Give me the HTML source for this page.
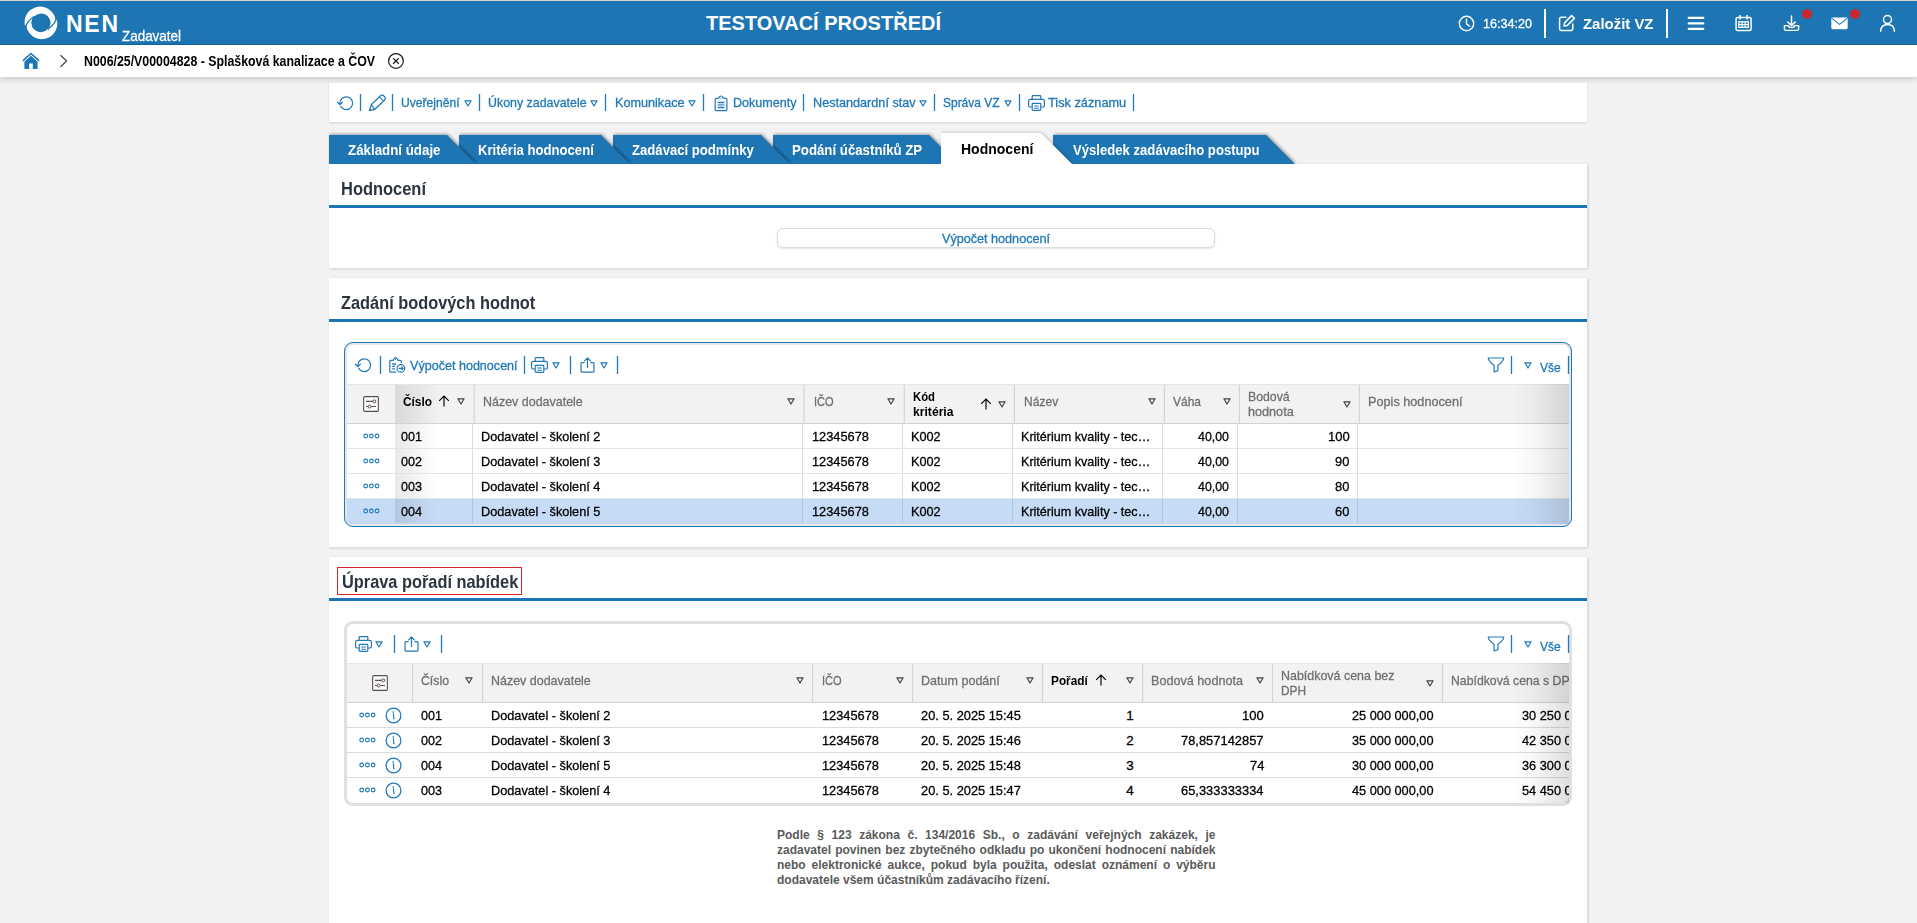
<!DOCTYPE html>
<html lang="cs"><head><meta charset="utf-8"><title>NEN - Hodnocení</title>
<style>
html,body{margin:0;padding:0}
body{width:1917px;height:923px;overflow:hidden;position:relative;background:#f2f2f2;font-family:"Liberation Sans", sans-serif;}
.t{position:absolute;white-space:pre;line-height:1;transform-origin:0 0;}
div,svg{box-sizing:border-box}
</style></head><body>
<div style="position:absolute;left:0px;top:0px;width:1917px;height:1px;background:#d9d6d2"></div>
<div style="position:absolute;left:0px;top:1px;width:1917px;height:44px;background:#1d75b4;border-bottom:1px solid #1468a8"></div>
<div style="position:absolute;left:0px;top:45px;width:1917px;height:32px;background:#fff;box-shadow:0 2px 6px rgba(0,0,0,.18)"></div>
<svg style="position:absolute;left:24px;top:6px;" width="34" height="34" viewBox="0 0 34 34" fill="none"><path d="M1.45 21.2A15.55 15.55 0 1 1 31.33 12.76Q31.32 17.8 23.98 23.33A9.4 9.4 0 1 0 10.14 10.61Q2.6 15.9 1.45 21.2Z" fill="#fff"/>
<path d="M32.47 12.5A15.55 15.55 0 1 1 2.59 20.94Q2.6 15.9 9.94 10.37A9.4 9.4 0 1 0 23.78 23.09Q31.32 17.8 32.47 12.5Z" fill="#fff"/>
<path d="M10.3 10.3Q2.6 15.9 1.2 21.9M23.7 23.4Q31.32 17.8 32.7 11.8" stroke="#1d75b4" stroke-width="1.25" fill="none"/></svg>
<span class="t" style="left:66.00px;top:13px;font-size:23px;color:#fff;font-weight:700;letter-spacing:1.719px;">NEN</span>
<span class="t" style="left:122.00px;top:28px;font-size:15px;color:#fff;-webkit-text-stroke:.3px;transform:scaleX(0.8956);">Zadavatel</span>
<span class="t" style="left:706.00px;top:13px;font-size:20px;color:#fff;font-weight:700;letter-spacing:0.009px;">TESTOVACÍ PROSTŘEDÍ</span>
<svg style="position:absolute;left:1458px;top:15px;" width="17" height="17" viewBox="0 0 17 17" fill="none"><circle cx="8.5" cy="8.5" r="7.2" stroke="#fff" stroke-width="1.4"/><path d="M8.5 4.3V8.8L11.6 11.2" stroke="#fff" stroke-width="1.4" stroke-linecap="round" fill="none"/></svg>
<span class="t" style="left:1483.00px;top:17px;font-size:13.4px;color:#fff;-webkit-text-stroke:.3px;transform:scaleX(0.9400);">16:34:20</span>
<div style="position:absolute;left:1544px;top:9px;width:2px;height:29px;background:#fff"></div>
<svg style="position:absolute;left:1558px;top:14px;" width="18" height="18" viewBox="0 0 18 18" fill="none"><path d="M8 3.2H3.2a1.6 1.6 0 0 0-1.6 1.6V14.8a1.6 1.6 0 0 0 1.6 1.6H13.2a1.6 1.6 0 0 0 1.6-1.6V10" stroke="#fff" stroke-width="1.5" stroke-linecap="round" fill="none"/><path d="M13.6 1.6l2.8 2.8-7 7-3.4.7.7-3.5z" stroke="#fff" stroke-width="1.5" stroke-linejoin="round" fill="none"/></svg>
<span class="t" style="left:1583.00px;top:16px;font-size:15.5px;color:#fff;font-weight:700;transform:scaleX(0.9631);">Založit VZ</span>
<div style="position:absolute;left:1666px;top:9px;width:2px;height:29px;background:#fff"></div>
<svg style="position:absolute;left:1687px;top:15px;" width="18" height="17" viewBox="0 0 18 17" fill="none"><path d="M1.8 2.9H16.2M1.8 8.4H16.2M1.8 13.9H16.2" stroke="#fff" stroke-width="2.3" stroke-linecap="round"/></svg>
<svg style="position:absolute;left:1735px;top:15px;" width="18" height="17" viewBox="0 0 18 17" fill="none"><rect x="1.1" y="2.4" width="15" height="13.2" rx="1.4" stroke="#fff" stroke-width="1.5"/><path d="M5 .5V4M12.2 .5V4" stroke="#fff" stroke-width="1.5" stroke-linecap="round"/><path d="M3.4 6.9H13.8M3.4 9.6H13.8M3.4 12.4H13.8" stroke="#fff" stroke-width="1.4"/><path d="M3.9 6.3V13M7.1 6.3V13M10.2 6.3V13M13.3 6.3V13" stroke="#fff" stroke-width="1.2"/></svg>
<svg style="position:absolute;left:1783px;top:15px;" width="17" height="17" viewBox="0 0 17 17" fill="none"><path d="M8.5 1V10.4M4.8 7L8.5 10.6 12.2 7" stroke="#fff" stroke-width="1.5" stroke-linecap="round" stroke-linejoin="round" fill="none"/><path d="M1.4 10.6V14a1.4 1.4 0 0 0 1.4 1.4H14.2a1.4 1.4 0 0 0 1.4-1.4V10.6H11.6l-1 1.8H6.4l-1-1.8z" stroke="#fff" stroke-width="1.4" stroke-linejoin="round" fill="none"/></svg>
<div style="position:absolute;left:1801.8px;top:9px;width:10px;height:10px;background:#c9282d;border-radius:50%"></div>
<svg style="position:absolute;left:1831px;top:17px;" width="17" height="13" viewBox="0 0 17 13" fill="none"><rect x="0.3" y="0.6" width="16.4" height="11.6" rx="1.4" fill="#fff"/><path d="M0.8 1.4L8.5 7.4 16.2 1.4" stroke="#1d75b4" stroke-width="1.1" fill="none"/></svg>
<div style="position:absolute;left:1849.8px;top:9px;width:10px;height:10px;background:#c9282d;border-radius:50%"></div>
<svg style="position:absolute;left:1879px;top:14px;" width="17" height="18" viewBox="0 0 17 18" fill="none"><circle cx="8.5" cy="5.6" r="4" stroke="#fff" stroke-width="1.5"/><path d="M1.6 17.2C1.6 12.8 4.6 10.4 8.5 10.4S15.4 12.8 15.4 17.2" stroke="#fff" stroke-width="1.5" stroke-linecap="round" fill="none"/></svg>
<svg style="position:absolute;left:22px;top:52px;" width="18" height="18" viewBox="0 0 18 18" fill="none"><path d="M1.4 8.4L9 1.5 16.6 8.4" stroke="#1d75b4" stroke-width="1.6" stroke-linecap="round" stroke-linejoin="round" fill="none"/><path d="M2.4 9.7L9 3.8l6.6 5.9V16.9H10.8V11.6H7.2V16.9H2.4z" fill="#1d75b4"/></svg>
<svg style="position:absolute;left:59px;top:54px;" width="9" height="14" viewBox="0 0 9 14" fill="none"><path d="M1.6 1.2L7.6 7 1.6 12.8" stroke="#444" stroke-width="1.2" fill="none"/></svg>
<span class="t" style="left:84.00px;top:54px;font-size:14px;color:#000;font-weight:700;transform:scaleX(0.8818);">N006/25/V00004828 - Splašková kanalizace a ČOV</span>
<svg style="position:absolute;left:388px;top:53px;" width="16" height="16" viewBox="0 0 16 16" fill="none"><circle cx="7.95" cy="7.95" r="7.35" stroke="#1a1a1a" stroke-width="1.2"/><path d="M5.1 5.1L10.8 10.8M10.8 5.1L5.1 10.8" stroke="#1a1a1a" stroke-width="1.3"/></svg>
<div style="position:absolute;left:329px;top:83px;width:1258px;height:39px;background:#fff;box-shadow:0 1px 2px rgba(0,0,0,.12)"></div>
<svg style="position:absolute;left:337px;top:96px;" width="17" height="15" viewBox="0 0 17 15" fill="none"><path d="M2.94 8.2A6.35 6.35 0 1 1 3.65 10.25" stroke="#2079b8" stroke-width="1.2" stroke-linecap="round" fill="none"/><path d="M0.4 6.2L2.85 8.5 5.3 6.2" stroke="#2079b8" stroke-width="1.2" stroke-linecap="round" stroke-linejoin="round" fill="none"/></svg>
<svg style="position:absolute;left:359px;top:94px;" width="4" height="17" viewBox="0 0 4 17" fill="none"><path d="M1.50 0V17" stroke="#2079b8" stroke-width="1.3"/></svg>
<svg style="position:absolute;left:368px;top:94px;" width="19" height="18" viewBox="0 0 19 18" fill="none"><path d="M3.3 10.8L11.9 2.3A3.04 3.04 0 0 1 16.3 6.5L6.8 15.3 1.3 16.7z" stroke="#2079b8" stroke-width="1.2" stroke-linejoin="round" fill="none"/><path d="M3.3 10.8L6.8 15.3M11.3 2.9L15.6 7.2" stroke="#2079b8" stroke-width="1.2"/><path d="M1.3 16.7L1.9 14.4 3.6 16.1z" fill="#2079b8"/></svg>
<svg style="position:absolute;left:391px;top:94px;" width="4" height="17" viewBox="0 0 4 17" fill="none"><path d="M1.50 0V17" stroke="#2079b8" stroke-width="1.3"/></svg>
<span class="t" style="left:401.20px;top:96px;font-size:13.4px;color:#2079b8;-webkit-text-stroke:.3px;transform:scaleX(0.9033);">Uveřejnění</span>
<svg style="position:absolute;left:464px;top:99.5px;" width="8" height="7" viewBox="0 0 8 7" fill="none"><path d="M0.9 0.8H7.1L4 6z" stroke="#2079b8" stroke-width="1.2" stroke-linejoin="round" fill="none"/></svg>
<svg style="position:absolute;left:478px;top:94px;" width="4" height="17" viewBox="0 0 4 17" fill="none"><path d="M1.50 0V17" stroke="#2079b8" stroke-width="1.3"/></svg>
<span class="t" style="left:487.60px;top:96px;font-size:13.4px;color:#2079b8;-webkit-text-stroke:.3px;transform:scaleX(0.9262);">Úkony zadavatele</span>
<svg style="position:absolute;left:590px;top:99.5px;" width="8" height="7" viewBox="0 0 8 7" fill="none"><path d="M0.9 0.8H7.1L4 6z" stroke="#2079b8" stroke-width="1.2" stroke-linejoin="round" fill="none"/></svg>
<svg style="position:absolute;left:604px;top:94px;" width="4" height="17" viewBox="0 0 4 17" fill="none"><path d="M1.50 0V17" stroke="#2079b8" stroke-width="1.3"/></svg>
<span class="t" style="left:614.70px;top:96px;font-size:13.4px;color:#2079b8;-webkit-text-stroke:.3px;transform:scaleX(0.9443);">Komunikace</span>
<svg style="position:absolute;left:688px;top:99.5px;" width="8" height="7" viewBox="0 0 8 7" fill="none"><path d="M0.9 0.8H7.1L4 6z" stroke="#2079b8" stroke-width="1.2" stroke-linejoin="round" fill="none"/></svg>
<svg style="position:absolute;left:702px;top:94px;" width="4" height="17" viewBox="0 0 4 17" fill="none"><path d="M1.50 0V17" stroke="#2079b8" stroke-width="1.3"/></svg>
<svg style="position:absolute;left:713.5px;top:94.5px;" width="14" height="17" viewBox="0 0 14 17" fill="none"><path d="M1.16 4.6A1.2 1.2 0 0 1 2.36 3.4H4.2C5 3.4 5 1 7.03 1S9.06 3.4 9.86 3.4H11.7A1.2 1.2 0 0 1 12.9 4.6V14.5A1.2 1.2 0 0 1 11.7 15.7H2.36A1.2 1.2 0 0 1 1.16 14.5z" stroke="#2079b8" stroke-width="1.2" fill="none"/><circle cx="6.95" cy="3.1" r=".65" fill="#2079b8"/><path d="M3.7 7.4H10.4M3.7 12.5H10.4" stroke="#2079b8" stroke-width="1.5"/><path d="M3.7 9.95H10.4" stroke="#2079b8" stroke-width="1.1"/></svg>
<span class="t" style="left:732.60px;top:96px;font-size:13.4px;color:#2079b8;-webkit-text-stroke:.3px;transform:scaleX(0.9375);">Dokumenty</span>
<svg style="position:absolute;left:802px;top:94px;" width="4" height="17" viewBox="0 0 4 17" fill="none"><path d="M1.50 0V17" stroke="#2079b8" stroke-width="1.3"/></svg>
<span class="t" style="left:812.60px;top:96px;font-size:13.4px;color:#2079b8;-webkit-text-stroke:.3px;transform:scaleX(0.9440);">Nestandardní stav</span>
<svg style="position:absolute;left:919px;top:99.5px;" width="8" height="7" viewBox="0 0 8 7" fill="none"><path d="M0.9 0.8H7.1L4 6z" stroke="#2079b8" stroke-width="1.2" stroke-linejoin="round" fill="none"/></svg>
<svg style="position:absolute;left:933px;top:94px;" width="4" height="17" viewBox="0 0 4 17" fill="none"><path d="M1.50 0V17" stroke="#2079b8" stroke-width="1.3"/></svg>
<span class="t" style="left:943.00px;top:96px;font-size:13.4px;color:#2079b8;-webkit-text-stroke:.3px;transform:scaleX(0.8931);">Správa VZ</span>
<svg style="position:absolute;left:1004px;top:99.5px;" width="8" height="7" viewBox="0 0 8 7" fill="none"><path d="M0.9 0.8H7.1L4 6z" stroke="#2079b8" stroke-width="1.2" stroke-linejoin="round" fill="none"/></svg>
<svg style="position:absolute;left:1018px;top:94px;" width="4" height="17" viewBox="0 0 4 17" fill="none"><path d="M1.50 0V17" stroke="#2079b8" stroke-width="1.3"/></svg>
<svg style="position:absolute;left:1027.5px;top:95px;" width="17" height="16" viewBox="0 0 17 16" fill="none"><path d="M4.2 4.4V1.4a.8.8 0 0 1 .8-.8H12a.8.8 0 0 1 .8.8V4.4" stroke="#2079b8" stroke-width="1.2" fill="none"/><path d="M4.2 12H2.2A1.6 1.6 0 0 1 .6 10.4V6A1.6 1.6 0 0 1 2.2 4.4H14.8A1.6 1.6 0 0 1 16.4 6V10.4A1.6 1.6 0 0 1 14.8 12H12.8" stroke="#2079b8" stroke-width="1.2" fill="none"/><rect x="4.2" y="8.4" width="8.6" height="7" rx=".8" stroke="#2079b8" stroke-width="1.2" fill="#fff"/><path d="M6.2 11H10.8M6.2 13.2H10.8" stroke="#2079b8" stroke-width="1.1"/></svg>
<span class="t" style="left:1048.20px;top:96px;font-size:13.4px;color:#2079b8;-webkit-text-stroke:.3px;transform:scaleX(0.9524);">Tisk záznamu</span>
<svg style="position:absolute;left:1132px;top:94px;" width="4" height="17" viewBox="0 0 4 17" fill="none"><path d="M1.50 0V17" stroke="#2079b8" stroke-width="1.3"/></svg>
<div style="position:absolute;left:329px;top:164px;width:1258px;height:104px;background:#fff;box-shadow:1px 1px 3px rgba(0,0,0,.15)"></div>
<div style="position:absolute;left:329px;top:205px;width:1258px;height:3px;background:#1d75b4"></div>
<svg style="position:absolute;left:1053px;top:135px;overflow:visible;filter:drop-shadow(1px -1px 1.5px rgba(0,0,0,.35));clip-path:inset(-6px -8px 0 -6px)" width="244" height="29"><polygon points="0,0 213,0 242,29 0,29" fill="#1d75b4"/></svg>
<span class="t" style="left:1072.70px;top:143px;font-size:14.5px;color:#fff;font-weight:700;transform:scaleX(0.9045);">Výsledek zadávacího postupu</span>
<svg style="position:absolute;left:773px;top:135px;overflow:visible;filter:drop-shadow(1px -1px 1.5px rgba(0,0,0,.35));clip-path:inset(-6px -8px 0 -6px)" width="187" height="29"><polygon points="0,0 156,0 185,29 0,29" fill="#1d75b4"/></svg>
<span class="t" style="left:791.80px;top:143px;font-size:14.5px;color:#fff;font-weight:700;transform:scaleX(0.9130);">Podání účastníků ZP</span>
<svg style="position:absolute;left:613px;top:135px;overflow:visible;filter:drop-shadow(1px -1px 1.5px rgba(0,0,0,.35));clip-path:inset(-6px -8px 0 -6px)" width="179" height="29"><polygon points="0,0 148,0 177,29 0,29" fill="#1d75b4"/></svg>
<span class="t" style="left:632.20px;top:143px;font-size:14.5px;color:#fff;font-weight:700;transform:scaleX(0.9051);">Zadávací podmínky</span>
<svg style="position:absolute;left:459px;top:135px;overflow:visible;filter:drop-shadow(1px -1px 1.5px rgba(0,0,0,.35));clip-path:inset(-6px -8px 0 -6px)" width="173" height="29"><polygon points="0,0 142,0 171,29 0,29" fill="#1d75b4"/></svg>
<span class="t" style="left:478.00px;top:143px;font-size:14.5px;color:#fff;font-weight:700;transform:scaleX(0.9039);">Kritéria hodnocení</span>
<svg style="position:absolute;left:329px;top:135px;overflow:visible;filter:drop-shadow(1px -1px 1.5px rgba(0,0,0,.35));clip-path:inset(-6px -8px 0 -6px)" width="149" height="29"><polygon points="0,0 118,0 147,29 0,29" fill="#1d75b4"/></svg>
<span class="t" style="left:347.70px;top:143px;font-size:14.5px;color:#fff;font-weight:700;transform:scaleX(0.9183);">Základní údaje</span>
<svg style="position:absolute;left:941px;top:133px;overflow:visible;filter:drop-shadow(1px -1px 1.5px rgba(0,0,0,.16));clip-path:inset(-6px -8px 0 -6px)" width="133" height="31"><polygon points="0,0 100,0 131,31 0,31" fill="#fff"/></svg>
<span class="t" style="left:961.30px;top:142px;font-size:14.5px;color:#000;font-weight:700;transform:scaleX(0.9663);">Hodnocení</span>
<span class="t" style="left:341.30px;top:180px;font-size:18.5px;color:#2c3440;font-weight:700;transform:scaleX(0.8892);">Hodnocení</span>
<div style="position:absolute;left:777px;top:228px;width:438px;height:20px;background:#fff;border:1px solid #dcdcdc;border-radius:6px;box-shadow:0 1px 2px rgba(0,0,0,.12)"></div>
<span class="t" style="left:942.30px;top:232px;font-size:13.4px;color:#2079b8;-webkit-text-stroke:.3px;transform:scaleX(0.9419);">Výpočet hodnocení</span>
<div style="position:absolute;left:329px;top:278px;width:1258px;height:269px;background:#fff;box-shadow:1px 1px 3px rgba(0,0,0,.15)"></div>
<div style="position:absolute;left:329px;top:319px;width:1258px;height:3px;background:#1d75b4"></div>
<span class="t" style="left:341.20px;top:294px;font-size:18.5px;color:#2c3440;font-weight:700;transform:scaleX(0.8834);">Zadání bodových hodnot</span>
<div style="position:absolute;left:329px;top:557px;width:1258px;height:380px;background:#fff;box-shadow:1px 1px 3px rgba(0,0,0,.15)"></div>
<div style="position:absolute;left:329px;top:598px;width:1258px;height:3px;background:#1d75b4"></div>
<div style="position:absolute;left:337px;top:567px;width:185px;height:27.5px;border:1px solid #d9242c"></div>
<span class="t" style="left:341.60px;top:573px;font-size:18.5px;color:#2c3440;font-weight:700;transform:scaleX(0.8839);">Úprava pořadí nabídek</span>
<div style="position:absolute;left:344px;top:342px;width:1228px;height:185px;border:3px solid #e3e6ea;border-radius:9px;background:#fff"></div>
<div style="position:absolute;left:344px;top:342px;width:1228px;height:185px;border:1px solid #2079b8;border-radius:9px"></div>
<svg style="position:absolute;left:355px;top:358px;" width="17" height="15" viewBox="0 0 17 15" fill="none"><path d="M2.94 8.2A6.35 6.35 0 1 1 3.65 10.25" stroke="#2079b8" stroke-width="1.2" stroke-linecap="round" fill="none"/><path d="M0.4 6.2L2.85 8.5 5.3 6.2" stroke="#2079b8" stroke-width="1.2" stroke-linecap="round" stroke-linejoin="round" fill="none"/></svg>
<svg style="position:absolute;left:379px;top:356px;" width="4" height="18" viewBox="0 0 4 18" fill="none"><path d="M1.50 0V18" stroke="#2079b8" stroke-width="1.3"/></svg>
<svg style="position:absolute;left:389px;top:357px;" width="17" height="17" viewBox="0 0 17 17" fill="none"><path d="M12.4 5.7V4.55A1.2 1.2 0 0 0 11.2 3.35H9.2C8.5 3.35 8.5 .6 6.6 .6S4.7 3.35 4 3.35H2A1.2 1.2 0 0 0 .8 4.55V13.95A1.2 1.2 0 0 0 2 15.15H6.7" stroke="#2079b8" stroke-width="1.2" stroke-linecap="round" fill="none"/><circle cx="6.55" cy="2.6" r=".6" fill="#2079b8"/><path d="M3.2 7H7.1M3.2 9.4H5.9M3.2 11.9H5.9" stroke="#2079b8" stroke-width="1.3"/><circle cx="11.9" cy="11.4" r="3.8" stroke="#2079b8" stroke-width="1.2" fill="none"/><path d="M9.6 11.4H14M12.5 9.8L14.2 11.4 12.5 13" stroke="#2079b8" stroke-width="1.2" stroke-linejoin="round" fill="none"/></svg>
<span class="t" style="left:409.50px;top:359px;font-size:13.4px;color:#2079b8;-webkit-text-stroke:.3px;transform:scaleX(0.9385);">Výpočet hodnocení</span>
<svg style="position:absolute;left:523px;top:356px;" width="4" height="18" viewBox="0 0 4 18" fill="none"><path d="M1.50 0V18" stroke="#2079b8" stroke-width="1.3"/></svg>
<svg style="position:absolute;left:530.5px;top:357px;" width="17" height="16" viewBox="0 0 17 16" fill="none"><path d="M4.2 4.4V1.4a.8.8 0 0 1 .8-.8H12a.8.8 0 0 1 .8.8V4.4" stroke="#2079b8" stroke-width="1.2" fill="none"/><path d="M4.2 12H2.2A1.6 1.6 0 0 1 .6 10.4V6A1.6 1.6 0 0 1 2.2 4.4H14.8A1.6 1.6 0 0 1 16.4 6V10.4A1.6 1.6 0 0 1 14.8 12H12.8" stroke="#2079b8" stroke-width="1.2" fill="none"/><rect x="4.2" y="8.4" width="8.6" height="7" rx=".8" stroke="#2079b8" stroke-width="1.2" fill="#fff"/><path d="M6.2 11H10.8M6.2 13.2H10.8" stroke="#2079b8" stroke-width="1.1"/></svg>
<svg style="position:absolute;left:551.5px;top:362px;" width="8" height="7" viewBox="0 0 8 7" fill="none"><path d="M0.9 0.8H7.1L4 6z" stroke="#2079b8" stroke-width="1.2" stroke-linejoin="round" fill="none"/></svg>
<svg style="position:absolute;left:569px;top:356px;" width="4" height="18" viewBox="0 0 4 18" fill="none"><path d="M1.50 0V18" stroke="#2079b8" stroke-width="1.3"/></svg>
<svg style="position:absolute;left:580px;top:357px;" width="15" height="16" viewBox="0 0 15 16" fill="none"><path d="M4.6 5.6H2A1 1 0 0 0 1 6.6V14.2A1 1 0 0 0 2 15.2H13A1 1 0 0 0 14 14.2V6.6A1 1 0 0 0 13 5.6H10.4" stroke="#2079b8" stroke-width="1.2" fill="none"/><path d="M7.5 10.4V1.2M4.6 3.8L7.5 0.9 10.4 3.8" stroke="#2079b8" stroke-width="1.2" stroke-linecap="round" stroke-linejoin="round" fill="none"/></svg>
<svg style="position:absolute;left:599.5px;top:362px;" width="8" height="7" viewBox="0 0 8 7" fill="none"><path d="M0.9 0.8H7.1L4 6z" stroke="#2079b8" stroke-width="1.2" stroke-linejoin="round" fill="none"/></svg>
<svg style="position:absolute;left:616px;top:356px;" width="4" height="18" viewBox="0 0 4 18" fill="none"><path d="M1.50 0V18" stroke="#2079b8" stroke-width="1.3"/></svg>
<svg style="position:absolute;left:1487px;top:356.5px;" width="18" height="16" viewBox="0 0 18 16" fill="none"><path d="M1.2 1H16.8Q16.4 4.6 10.9 8.2V13.6L7.1 15V8.2Q1.6 4.6 1.2 1z" stroke="#2079b8" stroke-width="1.2" stroke-linejoin="round" fill="none"/></svg>
<svg style="position:absolute;left:1510px;top:356px;" width="4" height="18" viewBox="0 0 4 18" fill="none"><path d="M1.50 0V18" stroke="#2079b8" stroke-width="1.3"/></svg>
<svg style="position:absolute;left:1524px;top:362px;" width="8" height="7" viewBox="0 0 8 7" fill="none"><path d="M0.9 0.8H7.1L4 6z" stroke="#2079b8" stroke-width="1.2" stroke-linejoin="round" fill="none"/></svg>
<span class="t" style="left:1540.00px;top:361px;font-size:13.4px;color:#2079b8;-webkit-text-stroke:.3px;transform:scaleX(0.9013);">Vše</span>
<svg style="position:absolute;left:1567px;top:356px;" width="4" height="18" viewBox="0 0 4 18" fill="none"><path d="M1.50 0V18" stroke="#2079b8" stroke-width="1.3"/></svg>
<div style="position:absolute;left:347px;top:384px;width:1222px;height:40px;background:#f2f2f2;border-top:1px solid #e6e6e6;border-bottom:1px solid #d2d2d2"></div>
<div style="position:absolute;left:394.5px;top:385px;width:46px;height:38px;background:linear-gradient(90deg,rgba(0,0,0,.10),rgba(0,0,0,0))"></div>
<svg style="position:absolute;left:362.5px;top:395.5px;" width="16" height="16" viewBox="0 0 16 16" fill="none"><rect x=".65" y=".65" width="14.7" height="14.7" rx="1" stroke="#5b5050" stroke-width="1.1" fill="#fafafa"/><path d="M3 5.4H13M3 10.5H13" stroke="#5b5050" stroke-width="1.1"/><circle cx="11.3" cy="5.4" r="1.5" stroke="#5b5050" stroke-width="1" fill="#fafafa"/><circle cx="6.6" cy="10.5" r="1.5" stroke="#5b5050" stroke-width="1" fill="#fafafa"/></svg>
<span class="t" style="left:402.80px;top:395px;font-size:13.4px;color:#000;font-weight:700;transform:scaleX(0.8855);">Číslo</span>
<svg style="position:absolute;left:438px;top:395px;" width="12" height="12" viewBox="0 0 12 12" fill="none"><path d="M6 11.4V1.2M1.2 5.8L6 1 10.8 5.8" stroke="#000" stroke-width="1.15" fill="none"/></svg>
<svg style="position:absolute;left:457.3px;top:397.8px;" width="8" height="7" viewBox="0 0 8 7" fill="none"><path d="M0.9 0.8H7.1L4 6z" stroke="#444" stroke-width="1.2" stroke-linejoin="round" fill="none"/></svg>
<svg style="position:absolute;left:473px;top:385px;" width="4" height="39" viewBox="0 0 4 39" fill="none"><path d="M1.20 0V39" stroke="#d4d4d4" stroke-width="1.2"/></svg>
<span class="t" style="left:483.20px;top:395px;font-size:13.4px;color:#707070;-webkit-text-stroke:.3px;transform:scaleX(0.9309);">Název dodavatele</span>
<svg style="position:absolute;left:787.2px;top:397.8px;" width="8" height="7" viewBox="0 0 8 7" fill="none"><path d="M0.9 0.8H7.1L4 6z" stroke="#444" stroke-width="1.2" stroke-linejoin="round" fill="none"/></svg>
<svg style="position:absolute;left:803px;top:385px;" width="4" height="39" viewBox="0 0 4 39" fill="none"><path d="M1.10 0V39" stroke="#d4d4d4" stroke-width="1.2"/></svg>
<span class="t" style="left:813.50px;top:395px;font-size:13.4px;color:#707070;-webkit-text-stroke:.3px;transform:scaleX(0.8273);">IČO</span>
<svg style="position:absolute;left:887.4px;top:397.8px;" width="8" height="7" viewBox="0 0 8 7" fill="none"><path d="M0.9 0.8H7.1L4 6z" stroke="#444" stroke-width="1.2" stroke-linejoin="round" fill="none"/></svg>
<svg style="position:absolute;left:903px;top:385px;" width="4" height="39" viewBox="0 0 4 39" fill="none"><path d="M1.30 0V39" stroke="#d4d4d4" stroke-width="1.2"/></svg>
<span class="t" style="left:913.30px;top:391px;font-size:12.9px;color:#000;font-weight:700;transform:scaleX(0.8778);">Kód</span>
<span class="t" style="left:913.30px;top:406px;font-size:12.9px;color:#000;font-weight:700;transform:scaleX(0.9419);">kritéria</span>
<svg style="position:absolute;left:979.5px;top:398px;" width="12" height="12" viewBox="0 0 12 12" fill="none"><path d="M6 11.4V1.2M1.2 5.8L6 1 10.8 5.8" stroke="#000" stroke-width="1.15" fill="none"/></svg>
<svg style="position:absolute;left:997.5px;top:400.6px;" width="8" height="7" viewBox="0 0 8 7" fill="none"><path d="M0.9 0.8H7.1L4 6z" stroke="#444" stroke-width="1.2" stroke-linejoin="round" fill="none"/></svg>
<svg style="position:absolute;left:1013px;top:385px;" width="4" height="39" viewBox="0 0 4 39" fill="none"><path d="M1.40 0V39" stroke="#d4d4d4" stroke-width="1.2"/></svg>
<span class="t" style="left:1023.50px;top:395px;font-size:13.4px;color:#707070;-webkit-text-stroke:.3px;transform:scaleX(0.9034);">Název</span>
<svg style="position:absolute;left:1147.5px;top:397.8px;" width="8" height="7" viewBox="0 0 8 7" fill="none"><path d="M0.9 0.8H7.1L4 6z" stroke="#444" stroke-width="1.2" stroke-linejoin="round" fill="none"/></svg>
<svg style="position:absolute;left:1163px;top:385px;" width="4" height="39" viewBox="0 0 4 39" fill="none"><path d="M1.40 0V39" stroke="#d4d4d4" stroke-width="1.2"/></svg>
<span class="t" style="left:1173.00px;top:395px;font-size:13.4px;color:#707070;-webkit-text-stroke:.3px;transform:scaleX(0.8951);">Váha</span>
<svg style="position:absolute;left:1222.6px;top:397.8px;" width="8" height="7" viewBox="0 0 8 7" fill="none"><path d="M0.9 0.8H7.1L4 6z" stroke="#444" stroke-width="1.2" stroke-linejoin="round" fill="none"/></svg>
<svg style="position:absolute;left:1238px;top:385px;" width="4" height="39" viewBox="0 0 4 39" fill="none"><path d="M1.50 0V39" stroke="#d4d4d4" stroke-width="1.2"/></svg>
<span class="t" style="left:1248.20px;top:391px;font-size:12.9px;color:#707070;-webkit-text-stroke:.3px;transform:scaleX(0.9512);">Bodová</span>
<span class="t" style="left:1248.20px;top:406px;font-size:12.9px;color:#707070;-webkit-text-stroke:.3px;transform:scaleX(0.9805);">hodnota</span>
<svg style="position:absolute;left:1342.8px;top:400.6px;" width="8" height="7" viewBox="0 0 8 7" fill="none"><path d="M0.9 0.8H7.1L4 6z" stroke="#444" stroke-width="1.2" stroke-linejoin="round" fill="none"/></svg>
<svg style="position:absolute;left:1358px;top:385px;" width="4" height="39" viewBox="0 0 4 39" fill="none"><path d="M1.30 0V39" stroke="#d4d4d4" stroke-width="1.2"/></svg>
<span class="t" style="left:1368.00px;top:395px;font-size:13.4px;color:#707070;-webkit-text-stroke:.3px;transform:scaleX(0.9472);">Popis hodnocení</span>
<div style="position:absolute;left:347px;top:447.8px;width:1222px;height:1.2px;background:#e4e4e4"></div>
<div style="position:absolute;left:394.5px;top:423.5px;width:42px;height:24.4px;background:linear-gradient(90deg,rgba(0,0,0,.09),rgba(0,0,0,0))"></div>
<div style="position:absolute;left:471.9px;top:423.5px;width:1.4px;height:24.4px;background:#dcdcdc"></div>
<div style="position:absolute;left:801.7px;top:423.5px;width:1.4px;height:24.4px;background:#dcdcdc"></div>
<div style="position:absolute;left:901.8px;top:423.5px;width:1.4px;height:24.4px;background:#dcdcdc"></div>
<div style="position:absolute;left:1011.9px;top:423.5px;width:1.4px;height:24.4px;background:#dcdcdc"></div>
<div style="position:absolute;left:1161.9px;top:423.5px;width:1.4px;height:24.4px;background:#dcdcdc"></div>
<div style="position:absolute;left:1237.0px;top:423.5px;width:1.4px;height:24.4px;background:#dcdcdc"></div>
<div style="position:absolute;left:1356.9px;top:423.5px;width:1.4px;height:24.4px;background:#dcdcdc"></div>
<svg style="position:absolute;left:362.5px;top:433.2px;" width="17" height="6" viewBox="0 0 17 6" fill="none"><circle cx="2.7" cy="3" r="1.9" stroke="#2079b8" stroke-width="1.1"/><circle cx="8.4" cy="3" r="1.9" stroke="#2079b8" stroke-width="1.1"/><circle cx="14.1" cy="3" r="1.9" stroke="#2079b8" stroke-width="1.1"/></svg>
<span class="t" style="left:401.40px;top:430px;font-size:13.4px;color:#000;-webkit-text-stroke:.3px;transform:scaleX(0.9399);">001</span>
<span class="t" style="left:481.20px;top:430px;font-size:13.4px;color:#000;-webkit-text-stroke:.3px;transform:scaleX(0.9491);">Dodavatel - školení 2</span>
<span class="t" style="left:811.50px;top:430px;font-size:13.4px;color:#000;-webkit-text-stroke:.3px;transform:scaleX(0.9567);">12345678</span>
<span class="t" style="left:911.30px;top:430px;font-size:13.4px;color:#000;-webkit-text-stroke:.3px;transform:scaleX(0.9495);">K002</span>
<span class="t" style="left:1021.10px;top:430px;font-size:13.4px;color:#000;-webkit-text-stroke:.3px;transform:scaleX(0.9386);">Kritérium kvality - tec…</span>
<span class="t" style="left:1197.80px;top:430px;font-size:13.4px;color:#000;-webkit-text-stroke:.3px;transform:scaleX(0.9249);">40,00</span>
<span class="t" style="left:1327.50px;top:430px;font-size:13.4px;color:#000;-webkit-text-stroke:.3px;transform:scaleX(0.9712);">100</span>
<div style="position:absolute;left:347px;top:472.8px;width:1222px;height:1.2px;background:#e4e4e4"></div>
<div style="position:absolute;left:394.5px;top:448.5px;width:42px;height:24.4px;background:linear-gradient(90deg,rgba(0,0,0,.09),rgba(0,0,0,0))"></div>
<div style="position:absolute;left:471.9px;top:448.5px;width:1.4px;height:24.4px;background:#dcdcdc"></div>
<div style="position:absolute;left:801.7px;top:448.5px;width:1.4px;height:24.4px;background:#dcdcdc"></div>
<div style="position:absolute;left:901.8px;top:448.5px;width:1.4px;height:24.4px;background:#dcdcdc"></div>
<div style="position:absolute;left:1011.9px;top:448.5px;width:1.4px;height:24.4px;background:#dcdcdc"></div>
<div style="position:absolute;left:1161.9px;top:448.5px;width:1.4px;height:24.4px;background:#dcdcdc"></div>
<div style="position:absolute;left:1237.0px;top:448.5px;width:1.4px;height:24.4px;background:#dcdcdc"></div>
<div style="position:absolute;left:1356.9px;top:448.5px;width:1.4px;height:24.4px;background:#dcdcdc"></div>
<svg style="position:absolute;left:362.5px;top:458.2px;" width="17" height="6" viewBox="0 0 17 6" fill="none"><circle cx="2.7" cy="3" r="1.9" stroke="#2079b8" stroke-width="1.1"/><circle cx="8.4" cy="3" r="1.9" stroke="#2079b8" stroke-width="1.1"/><circle cx="14.1" cy="3" r="1.9" stroke="#2079b8" stroke-width="1.1"/></svg>
<span class="t" style="left:401.40px;top:455px;font-size:13.4px;color:#000;-webkit-text-stroke:.3px;transform:scaleX(0.9399);">002</span>
<span class="t" style="left:481.20px;top:455px;font-size:13.4px;color:#000;-webkit-text-stroke:.3px;transform:scaleX(0.9491);">Dodavatel - školení 3</span>
<span class="t" style="left:811.50px;top:455px;font-size:13.4px;color:#000;-webkit-text-stroke:.3px;transform:scaleX(0.9567);">12345678</span>
<span class="t" style="left:911.30px;top:455px;font-size:13.4px;color:#000;-webkit-text-stroke:.3px;transform:scaleX(0.9495);">K002</span>
<span class="t" style="left:1021.10px;top:455px;font-size:13.4px;color:#000;-webkit-text-stroke:.3px;transform:scaleX(0.9386);">Kritérium kvality - tec…</span>
<span class="t" style="left:1197.80px;top:455px;font-size:13.4px;color:#000;-webkit-text-stroke:.3px;transform:scaleX(0.9249);">40,00</span>
<span class="t" style="left:1334.90px;top:455px;font-size:13.4px;color:#000;-webkit-text-stroke:.3px;transform:scaleX(0.9593);">90</span>
<div style="position:absolute;left:347px;top:497.8px;width:1222px;height:1.2px;background:#e4e4e4"></div>
<div style="position:absolute;left:394.5px;top:473.5px;width:42px;height:24.4px;background:linear-gradient(90deg,rgba(0,0,0,.09),rgba(0,0,0,0))"></div>
<div style="position:absolute;left:471.9px;top:473.5px;width:1.4px;height:24.4px;background:#dcdcdc"></div>
<div style="position:absolute;left:801.7px;top:473.5px;width:1.4px;height:24.4px;background:#dcdcdc"></div>
<div style="position:absolute;left:901.8px;top:473.5px;width:1.4px;height:24.4px;background:#dcdcdc"></div>
<div style="position:absolute;left:1011.9px;top:473.5px;width:1.4px;height:24.4px;background:#dcdcdc"></div>
<div style="position:absolute;left:1161.9px;top:473.5px;width:1.4px;height:24.4px;background:#dcdcdc"></div>
<div style="position:absolute;left:1237.0px;top:473.5px;width:1.4px;height:24.4px;background:#dcdcdc"></div>
<div style="position:absolute;left:1356.9px;top:473.5px;width:1.4px;height:24.4px;background:#dcdcdc"></div>
<svg style="position:absolute;left:362.5px;top:483.2px;" width="17" height="6" viewBox="0 0 17 6" fill="none"><circle cx="2.7" cy="3" r="1.9" stroke="#2079b8" stroke-width="1.1"/><circle cx="8.4" cy="3" r="1.9" stroke="#2079b8" stroke-width="1.1"/><circle cx="14.1" cy="3" r="1.9" stroke="#2079b8" stroke-width="1.1"/></svg>
<span class="t" style="left:401.40px;top:480px;font-size:13.4px;color:#000;-webkit-text-stroke:.3px;transform:scaleX(0.9399);">003</span>
<span class="t" style="left:481.20px;top:480px;font-size:13.4px;color:#000;-webkit-text-stroke:.3px;transform:scaleX(0.9491);">Dodavatel - školení 4</span>
<span class="t" style="left:811.50px;top:480px;font-size:13.4px;color:#000;-webkit-text-stroke:.3px;transform:scaleX(0.9567);">12345678</span>
<span class="t" style="left:911.30px;top:480px;font-size:13.4px;color:#000;-webkit-text-stroke:.3px;transform:scaleX(0.9495);">K002</span>
<span class="t" style="left:1021.10px;top:480px;font-size:13.4px;color:#000;-webkit-text-stroke:.3px;transform:scaleX(0.9386);">Kritérium kvality - tec…</span>
<span class="t" style="left:1197.80px;top:480px;font-size:13.4px;color:#000;-webkit-text-stroke:.3px;transform:scaleX(0.9249);">40,00</span>
<span class="t" style="left:1334.90px;top:480px;font-size:13.4px;color:#000;-webkit-text-stroke:.3px;transform:scaleX(0.9593);">80</span>
<div style="position:absolute;left:347px;top:498.5px;width:1222px;height:25.2px;background:#c6dbf6"></div>
<div style="position:absolute;left:394.5px;top:498.5px;width:42px;height:24.4px;background:linear-gradient(90deg,rgba(0,0,0,.09),rgba(0,0,0,0))"></div>
<div style="position:absolute;left:471.9px;top:498.5px;width:1.4px;height:24.4px;background:#b4c6dc"></div>
<div style="position:absolute;left:801.7px;top:498.5px;width:1.4px;height:24.4px;background:#b4c6dc"></div>
<div style="position:absolute;left:901.8px;top:498.5px;width:1.4px;height:24.4px;background:#b4c6dc"></div>
<div style="position:absolute;left:1011.9px;top:498.5px;width:1.4px;height:24.4px;background:#b4c6dc"></div>
<div style="position:absolute;left:1161.9px;top:498.5px;width:1.4px;height:24.4px;background:#b4c6dc"></div>
<div style="position:absolute;left:1237.0px;top:498.5px;width:1.4px;height:24.4px;background:#b4c6dc"></div>
<div style="position:absolute;left:1356.9px;top:498.5px;width:1.4px;height:24.4px;background:#b4c6dc"></div>
<svg style="position:absolute;left:362.5px;top:508.2px;" width="17" height="6" viewBox="0 0 17 6" fill="none"><circle cx="2.7" cy="3" r="1.9" stroke="#2079b8" stroke-width="1.1"/><circle cx="8.4" cy="3" r="1.9" stroke="#2079b8" stroke-width="1.1"/><circle cx="14.1" cy="3" r="1.9" stroke="#2079b8" stroke-width="1.1"/></svg>
<span class="t" style="left:401.40px;top:505px;font-size:13.4px;color:#000;-webkit-text-stroke:.3px;transform:scaleX(0.9399);">004</span>
<span class="t" style="left:481.20px;top:505px;font-size:13.4px;color:#000;-webkit-text-stroke:.3px;transform:scaleX(0.9491);">Dodavatel - školení 5</span>
<span class="t" style="left:811.50px;top:505px;font-size:13.4px;color:#000;-webkit-text-stroke:.3px;transform:scaleX(0.9567);">12345678</span>
<span class="t" style="left:911.30px;top:505px;font-size:13.4px;color:#000;-webkit-text-stroke:.3px;transform:scaleX(0.9495);">K002</span>
<span class="t" style="left:1021.10px;top:505px;font-size:13.4px;color:#000;-webkit-text-stroke:.3px;transform:scaleX(0.9386);">Kritérium kvality - tec…</span>
<span class="t" style="left:1197.80px;top:505px;font-size:13.4px;color:#000;-webkit-text-stroke:.3px;transform:scaleX(0.9249);">40,00</span>
<span class="t" style="left:1334.90px;top:505px;font-size:13.4px;color:#000;-webkit-text-stroke:.3px;transform:scaleX(0.9593);">60</span>
<div style="position:absolute;left:1511px;top:384.4px;width:58px;height:139.2px;background:linear-gradient(90deg,rgba(0,0,0,0),rgba(0,0,0,.03) 40%,rgba(0,0,0,.125))"></div>
<div style="position:absolute;left:344px;top:621px;width:1228px;height:185px;border:3px solid #dee0e4;border-radius:9px;background:#fff"></div>
<svg style="position:absolute;left:355px;top:636px;" width="17" height="16" viewBox="0 0 17 16" fill="none"><path d="M4.2 4.4V1.4a.8.8 0 0 1 .8-.8H12a.8.8 0 0 1 .8.8V4.4" stroke="#2079b8" stroke-width="1.2" fill="none"/><path d="M4.2 12H2.2A1.6 1.6 0 0 1 .6 10.4V6A1.6 1.6 0 0 1 2.2 4.4H14.8A1.6 1.6 0 0 1 16.4 6V10.4A1.6 1.6 0 0 1 14.8 12H12.8" stroke="#2079b8" stroke-width="1.2" fill="none"/><rect x="4.2" y="8.4" width="8.6" height="7" rx=".8" stroke="#2079b8" stroke-width="1.2" fill="#fff"/><path d="M6.2 11H10.8M6.2 13.2H10.8" stroke="#2079b8" stroke-width="1.1"/></svg>
<svg style="position:absolute;left:375px;top:641px;" width="8" height="7" viewBox="0 0 8 7" fill="none"><path d="M0.9 0.8H7.1L4 6z" stroke="#2079b8" stroke-width="1.2" stroke-linejoin="round" fill="none"/></svg>
<svg style="position:absolute;left:393px;top:635px;" width="4" height="18" viewBox="0 0 4 18" fill="none"><path d="M1.50 0V18" stroke="#2079b8" stroke-width="1.3"/></svg>
<svg style="position:absolute;left:404px;top:636px;" width="15" height="16" viewBox="0 0 15 16" fill="none"><path d="M4.6 5.6H2A1 1 0 0 0 1 6.6V14.2A1 1 0 0 0 2 15.2H13A1 1 0 0 0 14 14.2V6.6A1 1 0 0 0 13 5.6H10.4" stroke="#2079b8" stroke-width="1.2" fill="none"/><path d="M7.5 10.4V1.2M4.6 3.8L7.5 0.9 10.4 3.8" stroke="#2079b8" stroke-width="1.2" stroke-linecap="round" stroke-linejoin="round" fill="none"/></svg>
<svg style="position:absolute;left:423.3px;top:641px;" width="8" height="7" viewBox="0 0 8 7" fill="none"><path d="M0.9 0.8H7.1L4 6z" stroke="#2079b8" stroke-width="1.2" stroke-linejoin="round" fill="none"/></svg>
<svg style="position:absolute;left:440px;top:635px;" width="4" height="18" viewBox="0 0 4 18" fill="none"><path d="M1.50 0V18" stroke="#2079b8" stroke-width="1.3"/></svg>
<svg style="position:absolute;left:1487px;top:636px;" width="18" height="16" viewBox="0 0 18 16" fill="none"><path d="M1.2 1H16.8Q16.4 4.6 10.9 8.2V13.6L7.1 15V8.2Q1.6 4.6 1.2 1z" stroke="#2079b8" stroke-width="1.2" stroke-linejoin="round" fill="none"/></svg>
<svg style="position:absolute;left:1510px;top:635px;" width="4" height="18" viewBox="0 0 4 18" fill="none"><path d="M1.50 0V18" stroke="#2079b8" stroke-width="1.3"/></svg>
<svg style="position:absolute;left:1524px;top:641px;" width="8" height="7" viewBox="0 0 8 7" fill="none"><path d="M0.9 0.8H7.1L4 6z" stroke="#2079b8" stroke-width="1.2" stroke-linejoin="round" fill="none"/></svg>
<span class="t" style="left:1540.00px;top:640px;font-size:13.4px;color:#2079b8;-webkit-text-stroke:.3px;transform:scaleX(0.9013);">Vše</span>
<svg style="position:absolute;left:1567px;top:635px;" width="4" height="18" viewBox="0 0 4 18" fill="none"><path d="M1.50 0V18" stroke="#2079b8" stroke-width="1.3"/></svg>
<div style="position:absolute;left:347px;top:663px;width:1222px;height:40px;background:#f2f2f2;border-top:1px solid #e6e6e6;border-bottom:1px solid #d2d2d2"></div>
<svg style="position:absolute;left:372px;top:675.2px;" width="16" height="16" viewBox="0 0 16 16" fill="none"><rect x=".65" y=".65" width="14.7" height="14.7" rx="1" stroke="#5b5050" stroke-width="1.1" fill="#fafafa"/><path d="M3 5.4H13M3 10.5H13" stroke="#5b5050" stroke-width="1.1"/><circle cx="11.3" cy="5.4" r="1.5" stroke="#5b5050" stroke-width="1" fill="#fafafa"/><circle cx="6.6" cy="10.5" r="1.5" stroke="#5b5050" stroke-width="1" fill="#fafafa"/></svg>
<svg style="position:absolute;left:411px;top:664px;" width="4" height="39" viewBox="0 0 4 39" fill="none"><path d="M1.50 0V39" stroke="#d4d4d4" stroke-width="1.2"/></svg>
<span class="t" style="left:421.20px;top:674px;font-size:13.4px;color:#707070;-webkit-text-stroke:.3px;transform:scaleX(0.9176);">Číslo</span>
<svg style="position:absolute;left:465px;top:676.9px;" width="8" height="7" viewBox="0 0 8 7" fill="none"><path d="M0.9 0.8H7.1L4 6z" stroke="#444" stroke-width="1.2" stroke-linejoin="round" fill="none"/></svg>
<svg style="position:absolute;left:481px;top:664px;" width="4" height="39" viewBox="0 0 4 39" fill="none"><path d="M1.60 0V39" stroke="#d4d4d4" stroke-width="1.2"/></svg>
<span class="t" style="left:491.30px;top:674px;font-size:13.4px;color:#707070;-webkit-text-stroke:.3px;transform:scaleX(0.9309);">Název dodavatele</span>
<svg style="position:absolute;left:795.6px;top:676.9px;" width="8" height="7" viewBox="0 0 8 7" fill="none"><path d="M0.9 0.8H7.1L4 6z" stroke="#444" stroke-width="1.2" stroke-linejoin="round" fill="none"/></svg>
<svg style="position:absolute;left:811px;top:664px;" width="4" height="39" viewBox="0 0 4 39" fill="none"><path d="M1.50 0V39" stroke="#d4d4d4" stroke-width="1.2"/></svg>
<span class="t" style="left:821.50px;top:674px;font-size:13.4px;color:#707070;-webkit-text-stroke:.3px;transform:scaleX(0.8273);">IČO</span>
<svg style="position:absolute;left:895.8px;top:676.9px;" width="8" height="7" viewBox="0 0 8 7" fill="none"><path d="M0.9 0.8H7.1L4 6z" stroke="#444" stroke-width="1.2" stroke-linejoin="round" fill="none"/></svg>
<svg style="position:absolute;left:911px;top:664px;" width="4" height="39" viewBox="0 0 4 39" fill="none"><path d="M1.60 0V39" stroke="#d4d4d4" stroke-width="1.2"/></svg>
<span class="t" style="left:921.30px;top:674px;font-size:13.4px;color:#707070;-webkit-text-stroke:.3px;transform:scaleX(0.9367);">Datum podání</span>
<svg style="position:absolute;left:1025.6px;top:676.9px;" width="8" height="7" viewBox="0 0 8 7" fill="none"><path d="M0.9 0.8H7.1L4 6z" stroke="#444" stroke-width="1.2" stroke-linejoin="round" fill="none"/></svg>
<svg style="position:absolute;left:1041px;top:664px;" width="4" height="39" viewBox="0 0 4 39" fill="none"><path d="M1.50 0V39" stroke="#d4d4d4" stroke-width="1.2"/></svg>
<span class="t" style="left:1051.20px;top:674px;font-size:13.4px;color:#000;font-weight:700;transform:scaleX(0.8831);">Pořadí</span>
<svg style="position:absolute;left:1094.7px;top:674.2px;" width="12" height="12" viewBox="0 0 12 12" fill="none"><path d="M6 11.4V1.2M1.2 5.8L6 1 10.8 5.8" stroke="#000" stroke-width="1.15" fill="none"/></svg>
<svg style="position:absolute;left:1125.8px;top:676.9px;" width="8" height="7" viewBox="0 0 8 7" fill="none"><path d="M0.9 0.8H7.1L4 6z" stroke="#444" stroke-width="1.2" stroke-linejoin="round" fill="none"/></svg>
<svg style="position:absolute;left:1141px;top:664px;" width="4" height="39" viewBox="0 0 4 39" fill="none"><path d="M1.70 0V39" stroke="#d4d4d4" stroke-width="1.2"/></svg>
<span class="t" style="left:1151.30px;top:674px;font-size:13.4px;color:#707070;-webkit-text-stroke:.3px;transform:scaleX(0.9431);">Bodová hodnota</span>
<svg style="position:absolute;left:1256px;top:676.9px;" width="8" height="7" viewBox="0 0 8 7" fill="none"><path d="M0.9 0.8H7.1L4 6z" stroke="#444" stroke-width="1.2" stroke-linejoin="round" fill="none"/></svg>
<svg style="position:absolute;left:1271px;top:664px;" width="4" height="39" viewBox="0 0 4 39" fill="none"><path d="M1.50 0V39" stroke="#d4d4d4" stroke-width="1.2"/></svg>
<span class="t" style="left:1281.20px;top:670px;font-size:12.9px;color:#707070;-webkit-text-stroke:.3px;transform:scaleX(0.9657);">Nabídková cena bez</span>
<span class="t" style="left:1281.20px;top:685px;font-size:12.9px;color:#707070;-webkit-text-stroke:.3px;transform:scaleX(0.9185);">DPH</span>
<svg style="position:absolute;left:1425.6px;top:679.7px;" width="8" height="7" viewBox="0 0 8 7" fill="none"><path d="M0.9 0.8H7.1L4 6z" stroke="#444" stroke-width="1.2" stroke-linejoin="round" fill="none"/></svg>
<svg style="position:absolute;left:1441px;top:664px;" width="4" height="39" viewBox="0 0 4 39" fill="none"><path d="M1.50 0V39" stroke="#d4d4d4" stroke-width="1.2"/></svg>
<div style="position:absolute;left:1442px;top:664px;width:127px;height:38px;overflow:hidden">
<span class="t" style="left:9.20px;top:10px;font-size:13.4px;color:#707070;-webkit-text-stroke:.3px;transform:scaleX(0.9160);">Nabídková cena s DPH</span>
</div>
<div style="position:absolute;left:347px;top:726.9px;width:1222px;height:1.2px;background:#dcdcdc"></div>
<svg style="position:absolute;left:358.8px;top:712.1px;" width="17" height="6" viewBox="0 0 17 6" fill="none"><circle cx="2.7" cy="3" r="1.9" stroke="#2079b8" stroke-width="1.1"/><circle cx="8.4" cy="3" r="1.9" stroke="#2079b8" stroke-width="1.1"/><circle cx="14.1" cy="3" r="1.9" stroke="#2079b8" stroke-width="1.1"/></svg>
<svg style="position:absolute;left:384.5px;top:706.9px;" width="17" height="17" viewBox="0 0 17 17" fill="none"><circle cx="8.5" cy="8.5" r="7.4" stroke="#2079b8" stroke-width="1.25"/><path d="M7.7 7.1H8.6V10.9Q8.6 12 9.8 11.7" stroke="#2079b8" stroke-width="1.1" fill="none"/><circle cx="8.3" cy="5" r=".85" fill="#2079b8"/></svg>
<span class="t" style="left:421.20px;top:709px;font-size:13.4px;color:#000;-webkit-text-stroke:.3px;transform:scaleX(0.9399);">001</span>
<span class="t" style="left:491.30px;top:709px;font-size:13.4px;color:#000;-webkit-text-stroke:.3px;transform:scaleX(0.9491);">Dodavatel - školení 2</span>
<span class="t" style="left:821.50px;top:709px;font-size:13.4px;color:#000;-webkit-text-stroke:.3px;transform:scaleX(0.9567);">12345678</span>
<span class="t" style="left:921.30px;top:709px;font-size:13.4px;color:#000;-webkit-text-stroke:.3px;transform:scaleX(0.9573);">20. 5. 2025 15:45</span>
<span class="t" style="left:1126.15px;top:709px;font-size:13.4px;color:#000;-webkit-text-stroke:.3px;">1</span>
<span class="t" style="left:1242.20px;top:709px;font-size:13.4px;color:#000;-webkit-text-stroke:.3px;transform:scaleX(0.9712);">100</span>
<span class="t" style="left:1352.30px;top:709px;font-size:13.4px;color:#000;-webkit-text-stroke:.3px;transform:scaleX(0.9517);">25 000 000,00</span>
<div style="position:absolute;left:1442px;top:703px;width:127px;height:24px;overflow:hidden">
<span class="t" style="left:80.30px;top:6px;font-size:13.4px;color:#000;-webkit-text-stroke:.3px;transform:scaleX(0.9517);">30 250 000,00</span>
</div>
<div style="position:absolute;left:347px;top:751.9px;width:1222px;height:1.2px;background:#dcdcdc"></div>
<svg style="position:absolute;left:358.8px;top:737.1px;" width="17" height="6" viewBox="0 0 17 6" fill="none"><circle cx="2.7" cy="3" r="1.9" stroke="#2079b8" stroke-width="1.1"/><circle cx="8.4" cy="3" r="1.9" stroke="#2079b8" stroke-width="1.1"/><circle cx="14.1" cy="3" r="1.9" stroke="#2079b8" stroke-width="1.1"/></svg>
<svg style="position:absolute;left:384.5px;top:731.9px;" width="17" height="17" viewBox="0 0 17 17" fill="none"><circle cx="8.5" cy="8.5" r="7.4" stroke="#2079b8" stroke-width="1.25"/><path d="M7.7 7.1H8.6V10.9Q8.6 12 9.8 11.7" stroke="#2079b8" stroke-width="1.1" fill="none"/><circle cx="8.3" cy="5" r=".85" fill="#2079b8"/></svg>
<span class="t" style="left:421.20px;top:734px;font-size:13.4px;color:#000;-webkit-text-stroke:.3px;transform:scaleX(0.9399);">002</span>
<span class="t" style="left:491.30px;top:734px;font-size:13.4px;color:#000;-webkit-text-stroke:.3px;transform:scaleX(0.9491);">Dodavatel - školení 3</span>
<span class="t" style="left:821.50px;top:734px;font-size:13.4px;color:#000;-webkit-text-stroke:.3px;transform:scaleX(0.9567);">12345678</span>
<span class="t" style="left:921.30px;top:734px;font-size:13.4px;color:#000;-webkit-text-stroke:.3px;transform:scaleX(0.9573);">20. 5. 2025 15:46</span>
<span class="t" style="left:1126.15px;top:734px;font-size:13.4px;color:#000;-webkit-text-stroke:.3px;">2</span>
<span class="t" style="left:1181.40px;top:734px;font-size:13.4px;color:#000;-webkit-text-stroke:.3px;transform:scaleX(0.9633);">78,857142857</span>
<span class="t" style="left:1352.30px;top:734px;font-size:13.4px;color:#000;-webkit-text-stroke:.3px;transform:scaleX(0.9517);">35 000 000,00</span>
<div style="position:absolute;left:1442px;top:728px;width:127px;height:24px;overflow:hidden">
<span class="t" style="left:80.30px;top:6px;font-size:13.4px;color:#000;-webkit-text-stroke:.3px;transform:scaleX(0.9517);">42 350 000,00</span>
</div>
<div style="position:absolute;left:347px;top:776.9px;width:1222px;height:1.2px;background:#dcdcdc"></div>
<svg style="position:absolute;left:358.8px;top:762.1px;" width="17" height="6" viewBox="0 0 17 6" fill="none"><circle cx="2.7" cy="3" r="1.9" stroke="#2079b8" stroke-width="1.1"/><circle cx="8.4" cy="3" r="1.9" stroke="#2079b8" stroke-width="1.1"/><circle cx="14.1" cy="3" r="1.9" stroke="#2079b8" stroke-width="1.1"/></svg>
<svg style="position:absolute;left:384.5px;top:756.9px;" width="17" height="17" viewBox="0 0 17 17" fill="none"><circle cx="8.5" cy="8.5" r="7.4" stroke="#2079b8" stroke-width="1.25"/><path d="M7.7 7.1H8.6V10.9Q8.6 12 9.8 11.7" stroke="#2079b8" stroke-width="1.1" fill="none"/><circle cx="8.3" cy="5" r=".85" fill="#2079b8"/></svg>
<span class="t" style="left:421.20px;top:759px;font-size:13.4px;color:#000;-webkit-text-stroke:.3px;transform:scaleX(0.9399);">004</span>
<span class="t" style="left:491.30px;top:759px;font-size:13.4px;color:#000;-webkit-text-stroke:.3px;transform:scaleX(0.9491);">Dodavatel - školení 5</span>
<span class="t" style="left:821.50px;top:759px;font-size:13.4px;color:#000;-webkit-text-stroke:.3px;transform:scaleX(0.9567);">12345678</span>
<span class="t" style="left:921.30px;top:759px;font-size:13.4px;color:#000;-webkit-text-stroke:.3px;transform:scaleX(0.9573);">20. 5. 2025 15:48</span>
<span class="t" style="left:1126.15px;top:759px;font-size:13.4px;color:#000;-webkit-text-stroke:.3px;">3</span>
<span class="t" style="left:1249.60px;top:759px;font-size:13.4px;color:#000;-webkit-text-stroke:.3px;transform:scaleX(0.9593);">74</span>
<span class="t" style="left:1352.30px;top:759px;font-size:13.4px;color:#000;-webkit-text-stroke:.3px;transform:scaleX(0.9517);">30 000 000,00</span>
<div style="position:absolute;left:1442px;top:753px;width:127px;height:24px;overflow:hidden">
<span class="t" style="left:80.30px;top:6px;font-size:13.4px;color:#000;-webkit-text-stroke:.3px;transform:scaleX(0.9517);">36 300 000,00</span>
</div>
<svg style="position:absolute;left:358.8px;top:787.1px;" width="17" height="6" viewBox="0 0 17 6" fill="none"><circle cx="2.7" cy="3" r="1.9" stroke="#2079b8" stroke-width="1.1"/><circle cx="8.4" cy="3" r="1.9" stroke="#2079b8" stroke-width="1.1"/><circle cx="14.1" cy="3" r="1.9" stroke="#2079b8" stroke-width="1.1"/></svg>
<svg style="position:absolute;left:384.5px;top:781.9px;" width="17" height="17" viewBox="0 0 17 17" fill="none"><circle cx="8.5" cy="8.5" r="7.4" stroke="#2079b8" stroke-width="1.25"/><path d="M7.7 7.1H8.6V10.9Q8.6 12 9.8 11.7" stroke="#2079b8" stroke-width="1.1" fill="none"/><circle cx="8.3" cy="5" r=".85" fill="#2079b8"/></svg>
<span class="t" style="left:421.20px;top:784px;font-size:13.4px;color:#000;-webkit-text-stroke:.3px;transform:scaleX(0.9399);">003</span>
<span class="t" style="left:491.30px;top:784px;font-size:13.4px;color:#000;-webkit-text-stroke:.3px;transform:scaleX(0.9491);">Dodavatel - školení 4</span>
<span class="t" style="left:821.50px;top:784px;font-size:13.4px;color:#000;-webkit-text-stroke:.3px;transform:scaleX(0.9567);">12345678</span>
<span class="t" style="left:921.30px;top:784px;font-size:13.4px;color:#000;-webkit-text-stroke:.3px;transform:scaleX(0.9573);">20. 5. 2025 15:47</span>
<span class="t" style="left:1126.15px;top:784px;font-size:13.4px;color:#000;-webkit-text-stroke:.3px;">4</span>
<span class="t" style="left:1181.40px;top:784px;font-size:13.4px;color:#000;-webkit-text-stroke:.3px;transform:scaleX(0.9633);">65,333333334</span>
<span class="t" style="left:1352.30px;top:784px;font-size:13.4px;color:#000;-webkit-text-stroke:.3px;transform:scaleX(0.9517);">45 000 000,00</span>
<div style="position:absolute;left:1442px;top:778px;width:127px;height:24px;overflow:hidden">
<span class="t" style="left:80.30px;top:6px;font-size:13.4px;color:#000;-webkit-text-stroke:.3px;transform:scaleX(0.9517);">54 450 000,00</span>
</div>
<div style="position:absolute;left:1511px;top:663px;width:58px;height:139.6px;background:linear-gradient(90deg,rgba(0,0,0,0),rgba(0,0,0,.03) 40%,rgba(0,0,0,.125))"></div>
<div style="position:absolute;left:777px;top:828px;width:438.5px;height:15px;font-size:12px;line-height:15px;font-weight:700;color:#5a5a5a;white-space:nowrap;text-align:justify;text-align-last:justify;">Podle § 123 zákona č. 134/2016 Sb., o zadávání veřejných zakázek, je</div>
<div style="position:absolute;left:777px;top:843px;width:438.5px;height:15px;font-size:12px;line-height:15px;font-weight:700;color:#5a5a5a;white-space:nowrap;text-align:justify;text-align-last:justify;">zadavatel povinen bez zbytečného odkladu po ukončení hodnocení nabídek</div>
<div style="position:absolute;left:777px;top:858px;width:438.5px;height:15px;font-size:12px;line-height:15px;font-weight:700;color:#5a5a5a;white-space:nowrap;text-align:justify;text-align-last:justify;">nebo elektronické aukce, pokud byla použita, odeslat oznámení o výběru</div>
<div style="position:absolute;left:777px;top:873px;width:438.5px;height:15px;font-size:12px;line-height:15px;font-weight:700;color:#5a5a5a;white-space:nowrap;text-align:justify;text-align-last:left;">dodavatele všem účastníkům zadávacího řízení.</div>
</body></html>
